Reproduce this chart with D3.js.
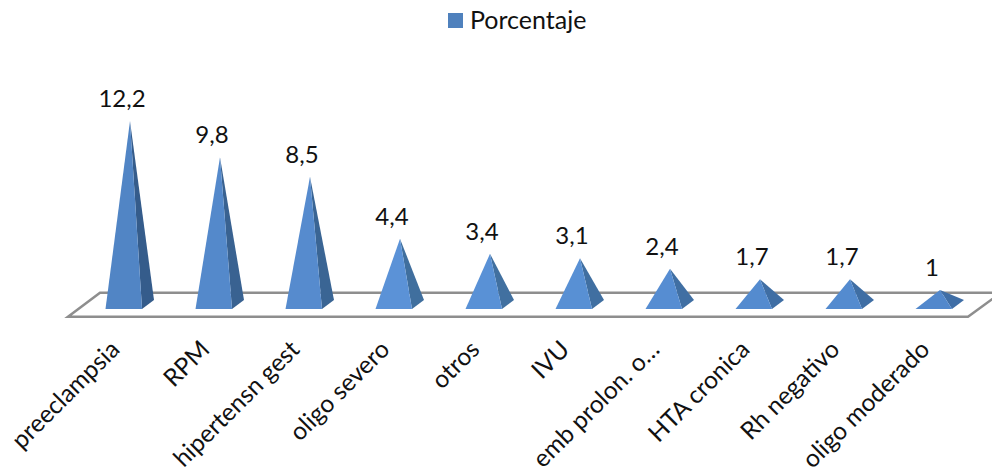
<!DOCTYPE html>
<html>

<head>
    <meta charset="UTF-8">
    <title>Porcentaje</title>
    <style>
        html, body {
            margin: 0;
            background: #fff;
            overflow: hidden;
        }

        text {
            font-family: Lato, "Open Sans", sans-serif;
            fill: #111;
        }
    </style>
</head>

<body>
    <svg></svg>
    <script src="https://d3js.org/d3.v7.min.js"></script>
    <script>

        let width = 992, height = 472

        let categories = ["preeclampsia", "RPM", "hipertensn gest", "oligo severo", "otros", "IVU", "emb prolon. o…", "HTA cronica", "Rh negativo", "oligo moderado"]
        let values = [12.2, 9.8, 8.5, 4.4, 3.4, 3.1, 2.4, 1.7, 1.7, 1]
        let valueLabels = ["12,2", "9,8", "8,5", "4,4", "3,4", "3,1", "2,4", "1,7", "1,7", "1"]
        let seriesName = "Porcentaje"

        let svg = d3.select("svg")
            .attr("width", width)
            .attr("height", height)
            .style("display", "block")

        // apex of each pyramid
        let x = d3.scalePoint().domain(categories).range([130, 940])
        let y = d3.scaleLinear().domain([0, 12.2]).range([305, 121])

        let line = d3.line()

        // floor
        svg.append("path")
            .attr("d", line([[68, 316.7], [968, 316.7], [1001, 292.7], [100, 292.7]]) + "Z")
            .attr("fill", "#fff")
            .attr("stroke", "#8e8e8e")
            .attr("stroke-width", 2.5)

        // front face gets lighter on the short pyramids
        let front = d3.scaleLinear().domain([1, 4, 12.2]).range(["#5288cc", "#5b93d8", "#5185c5"])
        let side = d3.scaleLinear().domain([1, 4, 12.2]).range(["#3f6ea6", "#41709f", "#355c8b"])

        let bars = svg.append("g")
            .selectAll("g")
            .data(categories)
            .enter()
            .append("g")

        bars.append("path")
            .attr("fill", (d, i) => side(values[i]))
            .attr("d", (d, i) => line([[x(d), y(values[i])], [x(d) + 12, 309], [x(d) + 24, 300]]) + "Z")

        bars.append("path")
            .attr("fill", (d, i) => front(values[i]))
            .attr("d", (d, i) => line([[x(d), y(values[i])], [x(d) - 24.5, 309], [x(d) + 12, 309]]) + "Z")

        // data labels
        bars.append("text")
            .attr("x", d => x(d) - 8)
            .attr("y", (d, i) => y(values[i]) - 14)
            .attr("text-anchor", "middle")
            .attr("font-size", 24)
            .text((d, i) => valueLabels[i])

        // category labels
        bars.append("text")
            .attr("text-anchor", "end")
            .attr("font-size", 24.5)
            .attr("transform", d => "translate(" + (x(d) - 9) + ",351) rotate(-45)")
            .text(d => d)

        // legend
        svg.append("rect")
            .attr("x", 448)
            .attr("y", 13)
            .attr("width", 15)
            .attr("height", 15)
            .attr("fill", "#4f81bd")

        svg.append("text")
            .attr("x", 470)
            .attr("y", 29)
            .attr("font-size", 25)
            .text(seriesName)
    </script>

</body>

</html>
